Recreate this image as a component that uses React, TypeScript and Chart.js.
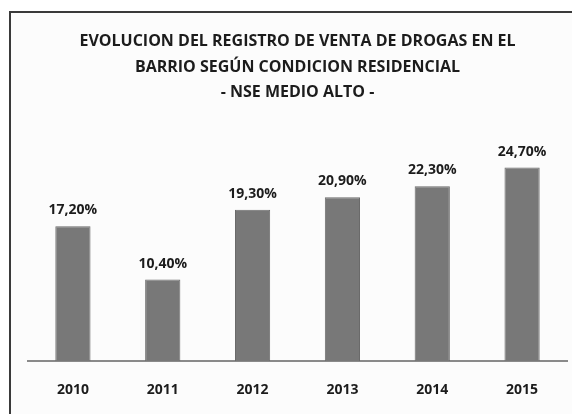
import React, { useEffect, useRef } from "react";
import { Chart, registerables } from "chart.js";

Chart.register(...registerables);

const titleLines = [
  "EVOLUCION DEL REGISTRO DE VENTA DE DROGAS EN EL",
  "BARRIO SEGÚN CONDICION RESIDENCIAL",
  "- NSE MEDIO ALTO -",
];
const years = ["2010", "2011", "2012", "2013", "2014", "2015"];
const values = [17.2, 10.4, 19.3, 20.9, 22.3, 24.7];

const fmt = (v: number) => v.toFixed(2).replace(".", ",") + "%";

const FONT = "'Open Sans', 'DejaVu Sans', sans-serif";
const TEXT = "#1c1c1c";

const framePlugin = {
  id: "frame",
  beforeDraw(chart: any) {
    const ctx = chart.ctx;
    ctx.save();
    ctx.fillStyle = "#ffffff";
    ctx.fillRect(0, 0, chart.width, chart.height);
    ctx.fillStyle = "#fcfcfc";
    ctx.fillRect(11, 13, chart.width - 11, chart.height - 13);
    ctx.strokeStyle = "#3a3a3a";
    ctx.lineWidth = 2;
    ctx.beginPath();
    ctx.moveTo(10, chart.height);
    ctx.lineTo(10, 12);
    ctx.lineTo(chart.width, 12);
    ctx.stroke();
    ctx.restore();
  },
};

const valueLabelPlugin = {
  id: "valueLabels",
  afterDatasetsDraw(chart: any) {
    const ctx = chart.ctx;
    const meta = chart.getDatasetMeta(0);
    ctx.save();
    ctx.font = `bold 14px ${FONT}`;
    ctx.textAlign = "center";
    ctx.textBaseline = "middle";
    ctx.fillStyle = TEXT;
    meta.data.forEach((bar: any, i: number) => {
      ctx.fillText(fmt(values[i]), bar.x, bar.y - 16);
    });
    ctx.restore();
  },
};

export default function App() {
  const ref = useRef<HTMLCanvasElement | null>(null);

  useEffect(() => {
    if (!ref.current) return;
    const chart = new Chart(ref.current, {
      type: "bar",
      data: {
        labels: years,
        datasets: [
          {
            data: values,
            backgroundColor: "#787878",
            borderColor: "#6a6a6a",
            borderWidth: 1,
            categoryPercentage: 0.8,
            barPercentage: 0.49,
          },
        ],
      },
      options: {
        animation: false,
        responsive: false,
        devicePixelRatio: 1,
        layout: { padding: { left: 28, right: 5, top: 0, bottom: 17 } },
        plugins: {
          legend: { display: false },
          tooltip: { enabled: false },
          title: {
            display: true,
            text: titleLines,
            color: TEXT,
            font: { family: FONT, weight: "bold", size: 16, lineHeight: 25.5 / 16 },
            padding: { top: 29, bottom: 20.5 },
          },
        },
        scales: {
          x: {
            grid: { display: false, drawTicks: false },
            border: { display: true, color: "#8a8a8a", width: 2 },
            ticks: {
              color: TEXT,
              font: { family: FONT, weight: "bold", size: 14 },
              padding: 21,
            },
            afterFit: (scale: any) => {
              scale.height = 36;
            },
          },
          y: { display: false, min: 0, max: 30 },
        },
      },
      plugins: [framePlugin, valueLabelPlugin],
    });
    return () => chart.destroy();
  }, []);

  return (
    <div style={{ position: "fixed", left: 0, top: 0, width: 572, height: 414 }}>
      <canvas ref={ref} width={572} height={414} />
    </div>
  );
}
